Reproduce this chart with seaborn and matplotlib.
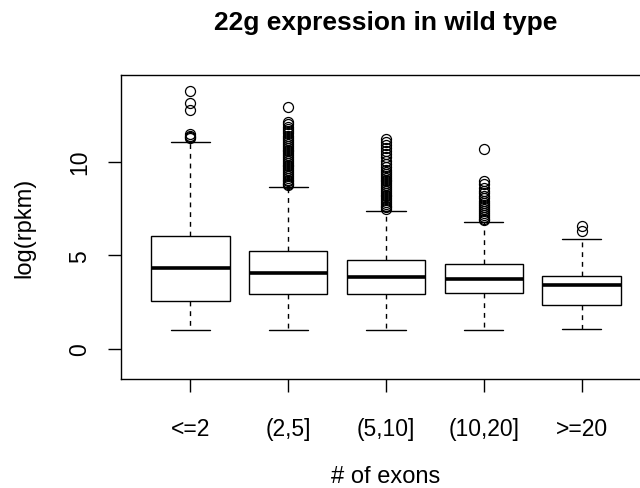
import numpy as np
import pandas as pd
import matplotlib
matplotlib.use("Agg")
import matplotlib.pyplot as plt
import seaborn as sns

# Exon-count bins
groups = ["<=2", "(2,5]", "(5,10]", "(10,20]", ">=20"]

# Five-number summaries of log(rpkm) per bin
whisker_lo = [1.00, 1.00, 1.00, 1.00, 1.08]
q1 = [2.58, 2.92, 2.92, 2.99, 2.33]
medians = [4.31, 4.07, 3.86, 3.74, 3.40]
q3 = [6.02, 5.23, 4.73, 4.52, 3.88]
whisker_hi = [11.03, 8.67, 7.38, 6.80, 5.87]

# Points beyond the upper whisker
outliers_1 = [13.77, 13.13, 12.74, 11.48, 11.38, 11.30, 11.24]
outliers_2 = [12.90, 12.12, 12.00, 11.88, 11.76, 11.64, 11.52, 11.40, 11.28,
              11.16, 11.05, 10.95, 10.85, 10.75, 10.65, 10.55, 10.45, 10.35,
              10.25, 10.15, 10.05, 9.95, 9.85, 9.75, 9.65, 9.55, 9.45, 9.35,
              9.25, 9.15, 9.05, 8.96, 8.88, 8.80, 8.74]
outliers_3 = [11.21, 11.03, 10.88, 10.72, 10.58, 10.42, 10.23, 10.05, 9.88,
              9.70, 9.55, 9.45, 9.35, 9.25, 9.15, 9.05, 8.95, 8.85, 8.75,
              8.65, 8.55, 8.45, 8.35, 8.25, 8.15, 8.05, 7.95, 7.85, 7.75,
              7.65, 7.57, 7.50]
outliers_4 = [10.70, 8.98, 8.80, 8.60, 8.45, 8.32, 8.18, 8.05, 7.92, 7.80,
              7.68, 7.56, 7.45, 7.35, 7.25, 7.15, 7.05, 6.96, 6.88]
outliers_5 = [6.58, 6.32]
outliers = [outliers_1, outliers_2, outliers_3, outliers_4, outliers_5]


def bin_sample(lo, a, m, b, hi, extra):
    """Sample whose quartiles, whiskers and fliers equal the given summary."""
    k = len(extra) + 1
    return [lo] + [a] * k + [m] * k + [b] * k + [hi] + list(extra)


rows = []
for g, lo, a, m, b, hi, ex in zip(groups, whisker_lo, q1, medians, q3,
                                  whisker_hi, outliers):
    for v in bin_sample(lo, a, m, b, hi, ex):
        rows.append({"exons": g, "log_rpkm": v})
df = pd.DataFrame(rows)

sns.set_theme(style="white")
plt.rcParams["font.family"] = ["Liberation Sans", "DejaVu Sans"]

fig = plt.figure(figsize=(6.4, 4.89), dpi=100)
W, H = 640, 489
left, right, top, bottom = 121, 651, 76, 380
ax = fig.add_axes([left / W, 1 - bottom / H, (right - left) / W, (bottom - top) / H])

sns.boxplot(
    data=df, x="exons", y="log_rpkm", order=groups, ax=ax,
    color="white", linecolor="black", linewidth=1.0, width=0.8, whis=1.5,
    medianprops=dict(linewidth=2.6, color="black"),
    whiskerprops=dict(linestyle=(0, (3.5, 3.5)), linewidth=1.0),
    capprops=dict(linewidth=1.0),
    flierprops=dict(marker="o", markerfacecolor="none",
                    markeredgecolor="black", markersize=7.2,
                    markeredgewidth=0.9),
)

ax.set_xlim(-0.71, 4.71)
ax.set_ylim(-1.60, 14.63)
ax.set_yticks([0, 5, 10])
ax.set_yticklabels(["0", "5", "10"], rotation=90, va="center")

for s in ax.spines.values():
    s.set_visible(True)
    s.set_color("black")
    s.set_linewidth(1.0)

ax.tick_params(axis="both", which="both", direction="out", length=9.4,
               width=1.0, color="black", labelsize=16.5, labelcolor="black",
               bottom=True, left=True)
ax.tick_params(axis="x", pad=18)
ax.tick_params(axis="y", pad=12)

ax.set_xlabel("# of exons", fontsize=17, labelpad=18, color="black")
ax.set_ylabel("log(rpkm)", fontsize=17, labelpad=24, color="black")
ax.set_title("22g expression in wild type", fontsize=19, fontweight="bold",
             pad=33, color="black")

fig.savefig("out.png", dpi=100)
